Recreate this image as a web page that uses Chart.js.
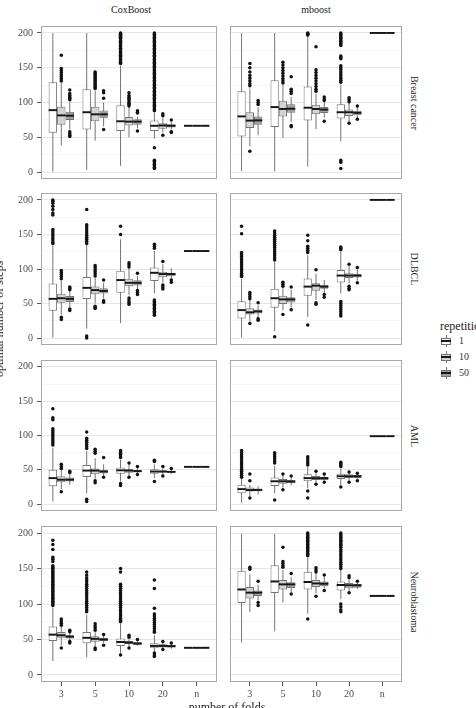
<!DOCTYPE html>
<html>
<head>
<meta charset="utf-8">
<script src="https://cdn.jsdelivr.net/npm/chart.js@4.4.1/dist/chart.umd.min.js"></script>
<style>
html,body{margin:0;padding:0;background:#fff;width:476px;height:708px;overflow:hidden;}
#wrap{position:relative;width:476px;height:708px;overflow:hidden;font-family:"Liberation Serif","DejaVu Serif",serif;background:#fff;}
canvas{position:absolute;}
.t{position:absolute;white-space:nowrap;line-height:12px;color:#1a1a1a;}
</style>
</head>
<body>
<div id="wrap"></div>
<script>
// ---------------- data ----------------
const folds = ['3', '5', '10', '20', 'n'];
const repetitions = ['1', '10', '50'];
const methods = ['CoxBoost', 'mboost'];
const dataSets = ['Breast cancer', 'DLBCL', 'AML', 'Neuroblastoma'];

// box statistics per fold (3,5,10,20), per repetition (1,10,50):
// [lower whisker, q1, median, q3, upper whisker]
const coxBreastBox = [
  [[0,56.5,89,129,200],[38,68,81.5,94,128],[61,75,81,86.6,101]],
  [[3,61,86,119,200],[45,73,83,94,117],[66,77.5,83,88.4,100]],
  [[9,59,73,96,153],[50,67,72.5,79,93],[63,68,72.5,76,80]],
  [[48,59,66.5,74,85],[57,62.4,67,70.2,78],[61,64.2,66.5,68.8,72]]
];
const coxBreastOut = [
  [[],[168,149,146,143,140,137,134,131],[118,113,110,108,106,104,58,55,53,51]],
  [[],[144,142,140,138,136,134,132,130,128,126,124,122,120],[117,114,106,61]],
  [[200,199,198,197,196,195,194,193,192,190,188,186,184,182,180,178,176,174,172,170,168,166,164,162,160,158,156],[114,110,108,106,104,101,99,97,95],[88,86,85,59]],
  [[200,198,196,194,192,190,188,186,184,182,180,178,176,174,172,170,168,166,164,162,160,158,156,154,152,150,148,146,144,142,140,138,136,134,132,130,128,126,124,122,120,118,116,114,112,110,108,106,104,102,100,98,96,94,92,90,88,35,17,15,13,11,9,7,5],[84,81,53],[75,58,57]]
];
const mboostBreastBox = [
  [[1,51,80,116,200],[37,63.3,74,86,120],[53,68,74.3,79.7,93]],
  [[1,64.7,93.4,132,200],[49,79.7,90.7,102.5,125],[72,85.2,91,97.5,108]],
  [[8,74,92.5,123,196],[62,83,90.7,96.6,113],[78,85,89.8,93.4,101]],
  [[44,77,86,97.5,126],[72,80.6,86,89.8,100],[77,81.6,85.2,88,93]]
];
const mboostBreastOut = [
  [[],[156,150,144,139,135,131,127,124,30],[103,100,97]],
  [[],[158,154,150,146,142,138,134,131,128],[137,119,116,113,67,65]],
  [[200,199,198,197],[180,147,143,139,135,131,127,123,119,116],[108,105,103,73]],
  [[200,198,196,194,192,190,188,186,184,182,167,165,163,153,150,147,144,141,138,135,132,129,17,14,5],[107,104,101,70],[95,76]]
];
const coxDlbclBox = [
  [[0,39.5,56.8,79,134],[34,51,57.7,64,83],[45,52.3,56.8,61,68]],
  [[14,56.4,72.7,88.6,135],[50,63.6,69.5,74.5,87],[57,64.5,68.2,72.3,80]],
  [[22,65.5,84,97.3,143],[62,75,80,86,101],[71,76,80,83.6,90]],
  [[65,82.7,94.5,102.3,126],[80,88.2,92.7,96,107],[86,89.5,92.7,94.5,101]]
];
const coxDlbclOut = [
  [[200,198,195,191,186,181,178,157,154,151,148,145,142,139,137],[98,95,92,89,86,30,27],[74,72,70,42,40]],
  [[186,164,161,158,155,152,149,146,143,140,137,3,0],[105,102,99,96,93,90,46,44,43],[84,54,52]],
  [[162,150],[109,106,103,58,55,52,49],[94,69,66,63]],
  [[136,133,130,55,53,51,49,47,45,43,41,39,37,35,33],[111,77,74,71],[84,81]]
];
const mboostDlbclBox = [
  [[1,28.2,40.5,53.2,86],[24,34,37.3,43.2,55],[29,35.5,38.6,41.4,47]],
  [[10,44,57.7,71.4,110],[40,49.5,56,61.4,72],[44,51.4,56,59,70]],
  [[30.5,61.4,74.5,86.4,120],[55,68.6,75.9,79.5,93],[65,71.4,74.5,77.3,84]],
  [[64.5,80.5,90.5,98.6,125],[79,86.8,90.5,94,104],[83,87.7,90.5,93,99]]
];
const mboostDlbclOut = [
  [[162,151,124,121,118,115,112,109,106,103,100,97,94,91,89],[66,63,60,57,21],[51,28,26]],
  [[155,152,149,146,143,140,137,134,131,128,125,122,119,116,113,2],[81,78,75,34],[74,41]],
  [[149,141,133,130,127,124,19],[99,51,49],[63,59]],
  [[132,130,128,53,50,47,44,41,38,35,32],[107,75,72,70],[102,80]]
];
const coxAmlBox = [
  [[4,26,37.9,50.2,82],[22,32,35.6,40.6,50],[28,32.9,35.6,38.8,44]],
  [[16,39.7,48.9,57,77],[37,43.4,48.9,52,67],[41,44.7,47.5,50.2,58]],
  [[33,44.3,49.3,53.4,65],[40,45.7,48.9,51,58],[44,47,48,49.8,53]],
  [[38,44.3,47.5,51,58],[43,46,47.5,48.9,52],[44,46,47,48.4,50]]
];
const coxAmlOut = [
  [[139,126,123,110,107,104,101,98,95,92,89,86],[58,55,52,18],[48,46]],
  [[105,96,93,90,87,84,81,7,4],[80,77,74,34,31],[68,39]],
  [[78,76,74,72,70,68,30,27],[60,39],[55,43]],
  [[64,62,33],[55,41],[52]]
];
const mboostAmlBox = [
  [[2,16,21.9,28.3,37],[12,18.3,20.5,24.2,28],[14,18.7,20.5,22.8,26]],
  [[16,26.5,33.3,38.8,56],[24,29.7,33.3,36.5,42],[27,30.6,32.9,35,38]],
  [[23,33.3,37.9,43.4,54],[31,35,37.9,41,45],[34,35,37.9,39.7,42]],
  [[28,36.5,40.6,44.3,52],[34,37.9,40.6,43.4,46],[36,37.9,40.6,42.5,44]]
];
const mboostAmlOut = [
  [[78,75,72,69,66,63,60,57,54,51,48,45,42,39],[44,34,9],[]],
  [[75,72,69,66,63,60,6],[44,21],[41]],
  [[69,66,63,60,57,19,9],[48,29],[44,32]],
  [[61,59,57,55,25],[47,32],[45,34]]
];
const coxNeuroBox = [
  [[19.5,47.7,56.8,68.2,95],[42,52.3,55.9,60.5,68],[48,51.4,54,55.9,60]],
  [[25,44.5,52.3,60.5,85],[40,46.8,50.9,54.5,60],[45,47.7,50,52.3,55]],
  [[30,40.9,46.4,51.4,72],[40,43.2,45.5,47.7,50],[41,43.2,44,46.4,48]],
  [[33,37.7,40.9,44.5,56],[37,38.6,40.9,43.2,45],[37,38.6,40.5,42.3,44]]
];
const coxNeuroOut = [
  [[190,184,177,166,163,160,154,152,150,148,146,144,142,140,138,136,134,132,130,128,126,124,122,120,118,116,114,112,110,108,106,104,102,100,98],[79,76,73,70,38],[63,61,47,45]],
  [[145,141,137,134,131,128,125,122,119,116,113,110,107,104,101,98,95,92,89],[72,69,66,63,38,36],[57,42]],
  [[150,145,128,125,122,119,116,113,110,107,104,101,98,95,92,89,86,83,80,77,75,28],[56,53,38],[50]],
  [[134,122,94,86,83,80,77,74,71,68,65,62,60,31,28,26],[47,36],[45]]
];
const mboostNeuroBox = [
  [[45.5,101.4,120.5,146.8,199],[88.6,107.7,116,124,142],[105,111.4,116,119,127]],
  [[61.4,115.4,131.8,154.5,199],[102,120.5,127.7,134,148],[117,122.7,127.7,130.5,138]],
  [[86.4,120.5,131,145.5,165],[115,124,129,134,143],[122,125,128.6,131.8,138]],
  [[106.8,119,126.8,131.8,148],[118,122.3,126.4,129.5,134],[121,123,126.4,128.6,130]]
];
const mboostNeuroOut = [
  [[],[152,149],[132,102,98]],
  [[],[180,160,157,154,152],[143,114]],
  [[200,198,196,194,192,190,188,186,184,182,180,178,176,174,172,170,168,79],[151,148,145,111],[141,119]],
  [[200,198,196,194,192,190,188,186,184,182,180,177,174,171,168,165,162,159,156,153,150,100,96,92,89],[140,137,116],[132]]
];
// leave-one-out ("n" folds): single value, per data set (Breast cancer, DLBCL, AML, Neuroblastoma)
const looCox = [66.5, 126, 54.3, 38.2];
const looMboost = [200, 200, 99, 111.4];
const yTicks = [0, 50, 100, 150, 200];

// ---------------- styling / layout ----------------
const SERIF = "'Liberation Serif','DejaVu Serif',serif";
Chart.defaults.font.family = SERIF;
const FILLS = ['#ffffff', '#d3d3d3', '#9d9d9d'];
const LINE = '#747474';
const MED = '#161616';
const MED_HALF = 1.4;
const DODGE = 0.25;
const colLeft = [0, 226], colWidth = [221, 180], axisW = [41, 0];
const rowTop = [22, 189, 356, 522], rowH = [161, 160, 159, 160], xAxisH = 20;

const wrap = document.getElementById('wrap');

const panels = [
  {col:0,row:0,box:coxBreastBox,out:coxBreastOut,n:looCox[0]},
  {col:1,row:0,box:mboostBreastBox,out:mboostBreastOut,n:looMboost[0]},
  {col:0,row:1,box:coxDlbclBox,out:coxDlbclOut,n:looCox[1]},
  {col:1,row:1,box:mboostDlbclBox,out:mboostDlbclOut,n:looMboost[1]},
  {col:0,row:2,box:coxAmlBox,out:coxAmlOut,n:looCox[2]},
  {col:1,row:2,box:mboostAmlBox,out:mboostAmlOut,n:looMboost[2]},
  {col:0,row:3,box:coxNeuroBox,out:coxNeuroOut,n:looCox[3]},
  {col:1,row:3,box:mboostNeuroBox,out:mboostNeuroOut,n:looMboost[3]}
];

const borderPlugin = {
  id: 'panelBorder',
  afterDraw(chart) {
    const {ctx, chartArea: a} = chart;
    ctx.save();
    ctx.strokeStyle = '#a8a8a8';
    ctx.lineWidth = 1;
    ctx.strokeRect(a.left + 0.5, a.top + 0.5, a.right - a.left - 1, a.bottom - a.top - 1);
    ctx.restore();
  }
};

function buildDatasets(p) {
  const ds = [];
  repetitions.forEach((rep, r) => {
    const stats = p.box.map(f => f[r]).concat([[p.n, p.n, p.n, p.n, p.n]]);
    const common = {type:'bar', stack:'rep' + rep, categoryPercentage:0.75, barPercentage:1, borderSkipped:false};
    ds.push(Object.assign({}, common, {order:3, backgroundColor:LINE, maxBarThickness:1,
      data: stats.map((s, i) => ({x:i + 1, y:[s[0], s[4]]}))}));
    ds.push(Object.assign({}, common, {order:2, backgroundColor:FILLS[r], borderColor:LINE, borderWidth:1,
      data: stats.map((s, i) => ({x:i + 1, y:[s[1], s[3]]}))}));
    ds.push(Object.assign({}, common, {order:1, backgroundColor:MED,
      data: stats.map((s, i) => ({x:i + 1, y:[s[2] - MED_HALF, s[2] + MED_HALF]}))}));
    const pts = [];
    p.out.forEach((f, i) => f[r].forEach(v => pts.push({x:i + 1 + (r - 1) * DODGE, y:v})));
    ds.push({type:'scatter', order:0, data:pts, pointRadius:1.75, pointBackgroundColor:'#111',
      pointBorderWidth:0, borderWidth:0, showLine:false});
  });
  return ds;
}

function makeChart(p) {
  const isLeft = p.col === 0, isBottom = p.row === 3;
  const w = colWidth[p.col], h = rowH[p.row] + (isBottom ? xAxisH : 0);
  const c = document.createElement('canvas');
  c.width = w; c.height = h;
  c.style.left = colLeft[p.col] + 'px';
  c.style.top = rowTop[p.row] + 'px';
  c.style.width = w + 'px';
  c.style.height = h + 'px';
  wrap.appendChild(c);
  new Chart(c, {
    type: 'bar',
    data: {datasets: buildDatasets(p)},
    plugins: [borderPlugin],
    options: {
      responsive:false, animation:false, events:[], devicePixelRatio:1,
      layout:{padding:0},
      plugins:{legend:{display:false}, tooltip:{enabled:false}},
      scales:{
        x:{
          type:'linear', min:0.4, max:5.6, offset:false, display:isBottom,
          grid:{display:true, drawOnChartArea:false, drawTicks:true, tickLength:4, tickColor:'#555', offset:false},
          border:{display:false},
          ticks:{stepSize:1, includeBounds:false, autoSkip:false, maxRotation:0, minRotation:0, padding:2,
            color:'#4d4d4d', font:{size:10, family:SERIF}, callback:v => (folds[v - 1] !== undefined ? folds[v - 1] : '')},
          afterFit:s => { s.height = isBottom ? xAxisH : 0; s.paddingLeft = 0; s.paddingRight = 0; }
        },
        y:{
          type:'linear', min:-10, max:210, stacked:false, beginAtZero:false,
          grid:{color:c => (c.tick && yTicks.includes(c.tick.value)) ? '#e6e6e6' : '#f5f5f5', lineWidth:1,
            drawTicks:isLeft, tickLength:4,
            tickColor:c => (c.tick && yTicks.includes(c.tick.value)) ? '#555' : 'rgba(0,0,0,0)'},
          border:{display:false},
          ticks:{display:isLeft, stepSize:25, includeBounds:false, autoSkip:false, padding:4,
            color:'#4d4d4d', font:{size:10, family:SERIF}, callback:v => (yTicks.includes(v) ? String(v) : '')},
          afterFit:s => { s.width = axisW[p.col]; s.paddingTop = 0; s.paddingBottom = 0; }
        }
      }
    }
  });
}
panels.forEach(makeChart);

// ---------------- text: strips, titles, legend ----------------
function addText(txt, css) {
  const d = document.createElement('div');
  d.className = 't';
  d.textContent = txt;
  Object.assign(d.style, css);
  wrap.appendChild(d);
  return d;
}
const colCenter = [131, 316];
methods.forEach((m, i) => addText(m, {left:colCenter[i] + 'px', top:'9.5px', fontSize:'10px',
  transform:'translate(-50%,-50%)'}));
dataSets.forEach((d, i) => addText(d, {left:'414px', top:(rowTop[i] + rowH[i] / 2) + 'px', fontSize:'10px',
  transform:'translate(-50%,-50%) rotate(90deg)'}));
addText('optimal number of steps', {left:'-1px', top:'319px', fontSize:'12px',
  transform:'translate(-50%,-50%) rotate(-90deg)'});
addText('number of folds', {left:'227px', top:'701px', fontSize:'12px', transform:'translateX(-50%)'});

// legend
addText('repetitions', {left:'440px', top:'320px', fontSize:'12px'});
repetitions.forEach((rep, r) => {
  const cy = 341 + r * 16.2;
  const key = document.createElement('div');
  Object.assign(key.style, {position:'absolute', left:'441px', top:(cy - 6) + 'px', width:'10px', height:'12px'});
  const wh = document.createElement('div');
  Object.assign(wh.style, {position:'absolute', left:'4.5px', top:'0px', width:'1px', height:'12px', background:LINE});
  const bx = document.createElement('div');
  Object.assign(bx.style, {position:'absolute', left:'0px', top:'2.5px', width:'10px', height:'7px',
    boxSizing:'border-box', border:'1px solid ' + LINE, background:FILLS[r]});
  const md = document.createElement('div');
  Object.assign(md.style, {position:'absolute', left:'0px', top:'5px', width:'10px', height:'2px', background:MED});
  key.appendChild(wh); key.appendChild(bx); key.appendChild(md);
  wrap.appendChild(key);
  addText(rep, {left:'459px', top:(cy - 6) + 'px', fontSize:'10px', color:'#333'});
});
</script>
</body>
</html>
